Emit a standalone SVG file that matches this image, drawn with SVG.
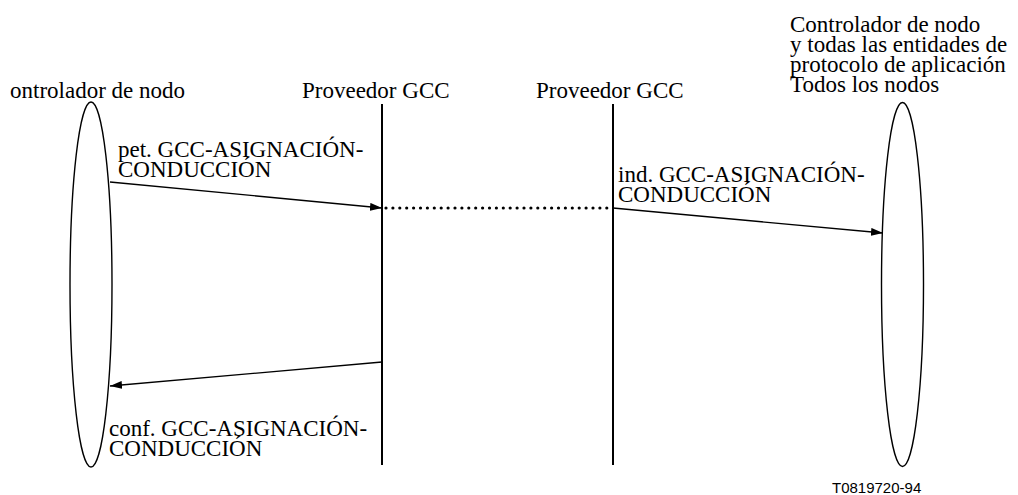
<svg xmlns="http://www.w3.org/2000/svg" width="1018" height="495" viewBox="0 0 1018 495">
<style>
.t{font-family:"Liberation Serif","Times New Roman",serif;font-size:23px;fill:#000}
.s{font-family:"Liberation Sans",Arial,sans-serif;font-size:15px;fill:#000}
.ell{fill:none;stroke:#000;stroke-width:1.4}
.life{stroke:#000;stroke-width:2}
.msg{stroke:#000;stroke-width:1.3;fill:none}
.dot{stroke:#000;stroke-width:3.2;stroke-linecap:round;stroke-dasharray:0 6.9;fill:none}
</style>
<defs>
<marker id="ah" viewBox="0 0 12 8" refX="12" refY="4" markerWidth="12" markerHeight="8" markerUnits="userSpaceOnUse" orient="auto">
<path d="M0,0 L12,4 L0,8 z" fill="#000"/>
</marker>
</defs>
<rect width="1018" height="495" fill="#fff"/>
<g id="left-node">
<ellipse class="ell" cx="91" cy="284.5" rx="21" ry="182.5"/>
<text class="t" x="10" y="98">ontrolador de nodo</text>
</g>
<g id="provider1">
<line class="life" x1="382" y1="104" x2="382" y2="465"/>
<text class="t" x="302" y="98">Proveedor GCC</text>
</g>
<g id="provider2">
<line class="life" x1="613" y1="104" x2="613" y2="465"/>
<text class="t" x="536" y="98">Proveedor GCC</text>
</g>
<g id="right-node">
<ellipse class="ell" cx="902.5" cy="284.5" rx="21" ry="182"/>
<text class="t" x="790" y="32">Controlador de nodo</text>
<text class="t" x="790" y="52">y todas las entidades de</text>
<text class="t" x="790" y="72">protocolo de aplicación</text>
<text class="t" x="790" y="92">Todos los nodos</text>
</g>
<g id="connectors">
<line class="msg" x1="110" y1="182" x2="382" y2="208" marker-end="url(#ah)"/>
<line class="dot" x1="386" y1="208" x2="612" y2="208"/>
<line class="msg" x1="613" y1="208" x2="883" y2="233" marker-end="url(#ah)"/>
<line class="msg" x1="382" y1="362" x2="110" y2="386" marker-end="url(#ah)"/>
</g>
<g id="labels">
<text class="t" x="118" y="157">pet. GCC-ASIGNACIÓN-</text>
<text class="t" x="118" y="177">CONDUCCIÓN</text>
<text class="t" x="618" y="182">ind. GCC-ASIGNACIÓN-</text>
<text class="t" x="618" y="202">CONDUCCIÓN</text>
<text class="t" x="109" y="436">conf. GCC-ASIGNACIÓN-</text>
<text class="t" x="109" y="456">CONDUCCIÓN</text>
<text class="s" x="832" y="493">T0819720-94</text>
</g>
</svg>
